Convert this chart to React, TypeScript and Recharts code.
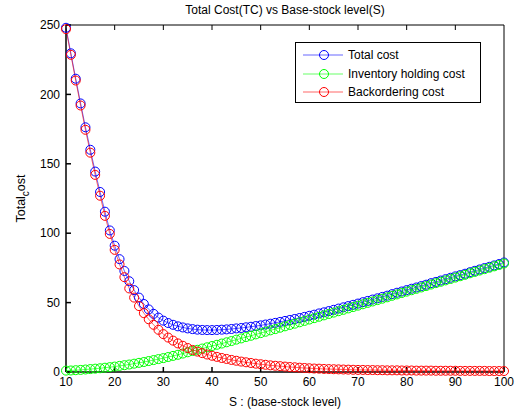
import { LineChart, Line, XAxis, YAxis, Legend } from 'recharts';

// base-stock level S (x axis)
const S = [
  10, 11, 12, 13, 14, 15, 16, 17, 18, 19,
  20, 21, 22, 23, 24, 25, 26, 27, 28, 29,
  30, 31, 32, 33, 34, 35, 36, 37, 38, 39,
  40, 41, 42, 43, 44, 45, 46, 47, 48, 49,
  50, 51, 52, 53, 54, 55, 56, 57, 58, 59,
  60, 61, 62, 63, 64, 65, 66, 67, 68, 69,
  70, 71, 72, 73, 74, 75, 76, 77, 78, 79,
  80, 81, 82, 83, 84, 85, 86, 87, 88, 89,
  90, 91, 92, 93, 94, 95, 96, 97, 98, 99,
  100,
];

const totalCost = [
  248, 229.6, 211.3, 193.5, 176.3, 160.1, 144.4, 129.7, 115.5, 102,
  91, 81.3, 72.8, 65.4, 59, 53.6, 49, 45.1, 41.9, 39.2,
  37, 35.3, 34, 32.9, 32.1, 31.4, 30.9, 30.5, 30.3, 30.2,
  30.2, 30.3, 30.5, 30.7, 31.0, 31.4, 31.7, 32.2, 32.6, 33.1,
  33.6, 34.2, 34.8, 35.4, 36.1, 36.8, 37.5, 38.2, 38.9, 39.7,
  40.5, 41.3, 42.2, 43.0, 43.9, 44.8, 45.7, 46.6, 47.5, 48.4,
  49.3, 50.3, 51.2, 52.2, 53.1, 54.1, 55.0, 56.1, 57.1, 58.0,
  59.0, 60.0, 60.9, 61.9, 62.9, 64.0, 64.9, 65.9, 66.9, 67.9,
  68.9, 69.8, 70.8, 71.9, 72.9, 73.9, 74.9, 75.8, 76.8, 77.8,
  78.9,
];

const holdingCost = [
  1.0, 1.1, 1.3, 1.5, 1.8, 2.1, 2.4, 2.7, 3.1, 3.5,
  3.9, 4.4, 4.9, 5.4, 6.0, 6.6, 7.2, 7.9, 8.6, 9.3,
  10.0, 10.8, 11.6, 12.4, 13.3, 14.2, 15.1, 16.0, 16.9, 17.8,
  18.7, 19.6, 20.5, 21.4, 22.3, 23.3, 24.2, 25.2, 26.1, 27.1,
  28.0, 29.0, 30.0, 30.9, 31.9, 32.9, 33.9, 34.8, 35.8, 36.8,
  37.8, 38.8, 39.8, 40.8, 41.8, 42.8, 43.8, 44.8, 45.8, 46.8,
  47.8, 48.8, 49.8, 50.8, 51.8, 52.8, 53.8, 54.9, 55.9, 56.9,
  57.9, 58.9, 59.9, 60.9, 61.9, 63.0, 64.0, 65.0, 66.0, 67.0,
  68.0, 69.0, 70.0, 71.1, 72.1, 73.1, 74.1, 75.1, 76.1, 77.1,
  78.2,
];

const backorderCost = [
  247, 228.5, 210, 192, 174.5, 158, 142, 127, 112.5, 99.5,
  88, 77.5, 68.3, 60.2, 53.6, 47.5, 42.4, 38, 34, 30.4,
  27.3, 24.8, 22.6, 20.6, 18.9, 17.3, 15.9, 14.7, 13.6, 12.6,
  11.7, 10.9, 10.1, 9.4, 8.7, 8.1, 7.5, 7.0, 6.5, 6.0,
  5.6, 5.2, 4.8, 4.5, 4.2, 3.9, 3.6, 3.4, 3.1, 2.9,
  2.7, 2.5, 2.4, 2.2, 2.1, 2.0, 1.9, 1.8, 1.7, 1.6,
  1.5, 1.5, 1.4, 1.4, 1.3, 1.3, 1.2, 1.2, 1.2, 1.1,
  1.1, 1.1, 1.0, 1.0, 1.0, 1.0, 0.9, 0.9, 0.9, 0.9,
  0.9, 0.8, 0.8, 0.8, 0.8, 0.8, 0.8, 0.7, 0.7, 0.7,
  0.7,
];

const xTicks = [10, 20, 30, 40, 50, 60, 70, 80, 90, 100];
const yTicks = [0, 50, 100, 150, 200, 250];

const SERIES = [
  { key: 'total', name: 'Total cost', color: '#0000ff' },
  { key: 'holding', name: 'Inventory holding cost', color: '#00ff00' },
  { key: 'backorder', name: 'Backordering cost', color: '#ff0000' },
];

const data = S.map((s, i) => ({
  s,
  total: totalCost[i],
  holding: holdingCost[i],
  backorder: backorderCost[i],
}));

const FONT = '"Liberation Sans", Arial, sans-serif';

const NoTick = () => <g />;

const Title = ({ viewBox }: any) => (
  <text
    x={viewBox.x + viewBox.width / 2}
    y={14}
    textAnchor="middle"
    fontSize={12}
    fontFamily={FONT}
    fill="#000"
  >
    Total Cost(TC) vs Base-stock level(S)
  </text>
);

const YLabel = ({ viewBox }: any) => {
  const cx = 25;
  const cy = viewBox.y + viewBox.height / 2;
  return (
    <text
      x={cx}
      y={cy}
      transform={`rotate(-90, ${cx}, ${cy})`}
      textAnchor="middle"
      fontSize={12.5}
      fontFamily={FONT}
      fill="#000"
    >
      Total
      <tspan dy={4} fontSize={10}>c</tspan>
      <tspan dy={-4}>ost</tspan>
    </text>
  );
};

function MatlabLegend() {
  return (
    <div
      style={{
        boxSizing: 'border-box',
        width: 186,
        height: 61,
        paddingTop: 3,
        border: '1px solid #000',
        background: '#fff',
        fontFamily: FONT,
        fontSize: 12,
        color: '#000',
      }}
    >
      {SERIES.map((s) => (
        <div key={s.key} style={{ display: 'flex', alignItems: 'center', height: 18.5 }}>
          <svg width={40} height={12} style={{ marginLeft: 7 }}>
            <line x1={0} y1={6} x2={40} y2={6} stroke={s.color} strokeWidth={0.6} />
            <circle cx={21} cy={6} r={4.5} stroke={s.color} strokeWidth={1} fill="none" />
          </svg>
          <span style={{ marginLeft: 5, whiteSpace: 'nowrap' }}>{s.name}</span>
        </div>
      ))}
    </div>
  );
}

export default function App() {
  const tickStyle = { fill: '#000', fontSize: 12, fontFamily: FONT };
  return (
    <div style={{ position: 'absolute', left: 0, top: 0, width: 516, height: 413, background: '#fff' }}>
      <LineChart width={516} height={413} data={data} margin={{ top: 0, right: 0, bottom: 0, left: 0 }}>
        <XAxis
          dataKey="s"
          type="number"
          domain={[10, 100]}
          ticks={xTicks}
          height={41}
          tick={tickStyle}
          tickSize={-5}
          tickMargin={10}
          stroke="#000"
          strokeWidth={1.5}
          label={{ value: 'S : (base-stock level)', position: 'insideBottom', offset: 7, fill: '#000', fontSize: 12, fontFamily: FONT }}
        />
        <XAxis
          xAxisId="top"
          orientation="top"
          type="number"
          domain={[10, 100]}
          ticks={xTicks}
          height={25}
          tick={NoTick}
          tickSize={-5}
          stroke="#000"
          label={<Title />}
        />
        <YAxis
          type="number"
          domain={[0, 250]}
          ticks={yTicks}
          width={66}
          tick={tickStyle}
          tickSize={-5}
          tickMargin={11}
          stroke="#000"
          strokeWidth={1.5}
          label={<YLabel />}
        />
        <YAxis
          yAxisId="right"
          orientation="right"
          type="number"
          domain={[0, 250]}
          ticks={yTicks}
          width={12}
          tick={NoTick}
          tickSize={-5}
          stroke="#000"
        />
        <Legend
          layout="vertical"
          verticalAlign="middle"
          align="center"
          content={<MatlabLegend />}
          wrapperStyle={{ position: 'absolute', left: 295, top: 42, width: 'auto' }}
        />
        {SERIES.map((s) => (
          <Line
            key={s.key}
            dataKey={s.key}
            name={s.name}
            type="linear"
            stroke={s.color}
            strokeWidth={0.6}
            dot={{ r: 4.5, stroke: s.color, strokeWidth: 1, fill: 'none' }}
            activeDot={false}
            isAnimationActive={false}
          />
        ))}
      </LineChart>
    </div>
  );
}
